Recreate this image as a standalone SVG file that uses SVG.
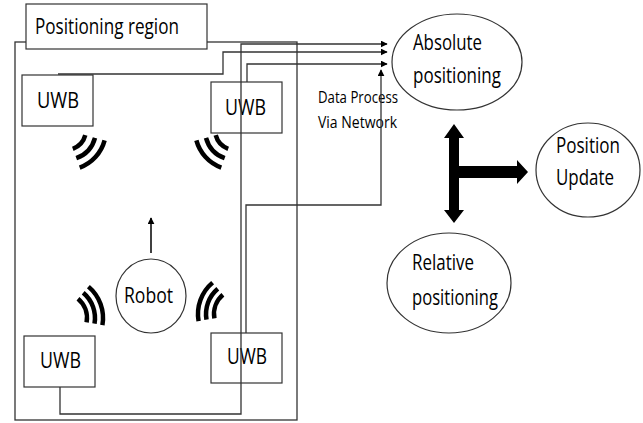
<svg xmlns="http://www.w3.org/2000/svg" width="643" height="423" viewBox="0 0 643 423">
<defs>
<style>
.box{fill:#fff;stroke:#333;stroke-width:1.2}
.ell{fill:#fff;stroke:#333;stroke-width:1.2}
.t{font-family:"Open Sans","Liberation Sans",sans-serif;font-size:22px;fill:#000}
.s{font-family:"Open Sans","Liberation Sans",sans-serif;font-size:16.5px;fill:#000}
.c{fill:none;stroke:#333;stroke-width:1.3}
.w{fill:none;stroke:#000;stroke-width:4.5}
</style>
<marker id="ah" viewBox="0 0 10 10" refX="9" refY="5" markerWidth="7" markerHeight="7" markerUnits="userSpaceOnUse" orient="auto">
<path d="M0,0 L10,5 L0,10 Z" fill="#000"/>
</marker>
</defs>
<rect width="643" height="423" fill="#fff"/>
<g id="region">
<rect x="15" y="42" width="282" height="378" fill="none" stroke="#333" stroke-width="1.3"/>
</g>
<g id="region-label">
<rect class="box" x="26" y="4" width="181" height="45"/>
<text class="t" x="35" y="34" textLength="144" lengthAdjust="spacingAndGlyphs">Positioning region</text>
</g>
<g id="uwb-tl">
<rect class="box" x="22" y="75" width="71" height="51"/>
<text class="t" x="37" y="108" textLength="42" lengthAdjust="spacingAndGlyphs">UWB</text>
</g>
<g id="uwb-tr">
<rect class="box" x="211" y="82" width="71" height="51"/>
<text class="t" x="225" y="115" textLength="41" lengthAdjust="spacingAndGlyphs">UWB</text>
</g>
<g id="uwb-bl">
<rect class="box" x="24" y="336" width="71" height="51"/>
<text class="t" x="40" y="368" textLength="41" lengthAdjust="spacingAndGlyphs">UWB</text>
</g>
<g id="uwb-br">
<rect class="box" x="211" y="333" width="71" height="50"/>
<text class="t" x="227" y="364" textLength="40" lengthAdjust="spacingAndGlyphs">UWB</text>
</g>
<g id="signals">
<path class="w" d="M85.3,135.2 A20,20 0 0 1 72.8,148.8 M95,137.8 A30,30 0 0 1 76.3,158.2 M104.6,140.4 A40,40 0 0 1 79.7,167.6"/>
<path class="w" d="M215.7,135.2 A20,20 0 0 0 228.2,148.8 M206,137.8 A30,30 0 0 0 224.7,158.2 M196.4,140.4 A40,40 0 0 0 221.3,167.6"/>
<path class="w" d="M78,298.8 A25,25 0 0 1 86.6,322.3 M83.2,292.7 A33,33 0 0 1 94.5,323.7 M88.4,286.6 A41,41 0 0 1 102.4,325.1"/>
<path class="w" d="M222.9,294.8 A25,25 0 0 0 214.4,318.3 M217.8,288.7 A33,33 0 0 0 206.5,319.7 M212.6,282.6 A41,41 0 0 0 198.6,321.1"/>
</g>
<g id="robot">
<ellipse class="ell" cx="151" cy="296" rx="35" ry="37"/>
<text class="t" x="124" y="303" textLength="49" lengthAdjust="spacingAndGlyphs">Robot</text>
<line x1="151" y1="253" x2="151" y2="218" stroke="#000" stroke-width="1.5" marker-end="url(#ah)"/>
</g>
<g id="absolute">
<ellipse class="ell" cx="457" cy="62" rx="65" ry="48"/>
<text class="t" x="413" y="50" textLength="69" lengthAdjust="spacingAndGlyphs">Absolute</text>
<text class="t" x="413" y="83" textLength="88" lengthAdjust="spacingAndGlyphs">positioning</text>
</g>
<g id="relative">
<ellipse class="ell" cx="449" cy="283" rx="62" ry="50"/>
<text class="t" x="412" y="270" textLength="62" lengthAdjust="spacingAndGlyphs">Relative</text>
<text class="t" x="412" y="305" textLength="86" lengthAdjust="spacingAndGlyphs">positioning</text>
</g>
<g id="update">
<ellipse class="ell" cx="588" cy="170" rx="52" ry="47"/>
<text class="t" x="556" y="153" textLength="64" lengthAdjust="spacingAndGlyphs">Position</text>
<text class="t" x="556" y="185" textLength="58" lengthAdjust="spacingAndGlyphs">Update</text>
</g>
<g id="network-label">
<text class="s" x="318" y="103" textLength="80" lengthAdjust="spacingAndGlyphs">Data Process</text>
<text class="s" x="318" y="128" textLength="79" lengthAdjust="spacingAndGlyphs">Via Network</text>
</g>
<g id="connectors">
<path class="c" d="M60,387 V414 H241 V44 H387" marker-end="url(#ah)"/>
<path class="c" d="M58,74 H223 V52 H387" marker-end="url(#ah)"/>
<path class="c" d="M247,82 V64 H387" marker-end="url(#ah)"/>
<path class="c" d="M246,333 V205 H381 V70" marker-end="url(#ah)"/>
<polygon points="454,124 464,138 459,138 459,166 517,166 517,160 528,172 517,184 517,178 459,178 459,210 464,210 454,223 444,210 449,210 449,138 444,138" fill="#000"/>
</g>
</svg>
